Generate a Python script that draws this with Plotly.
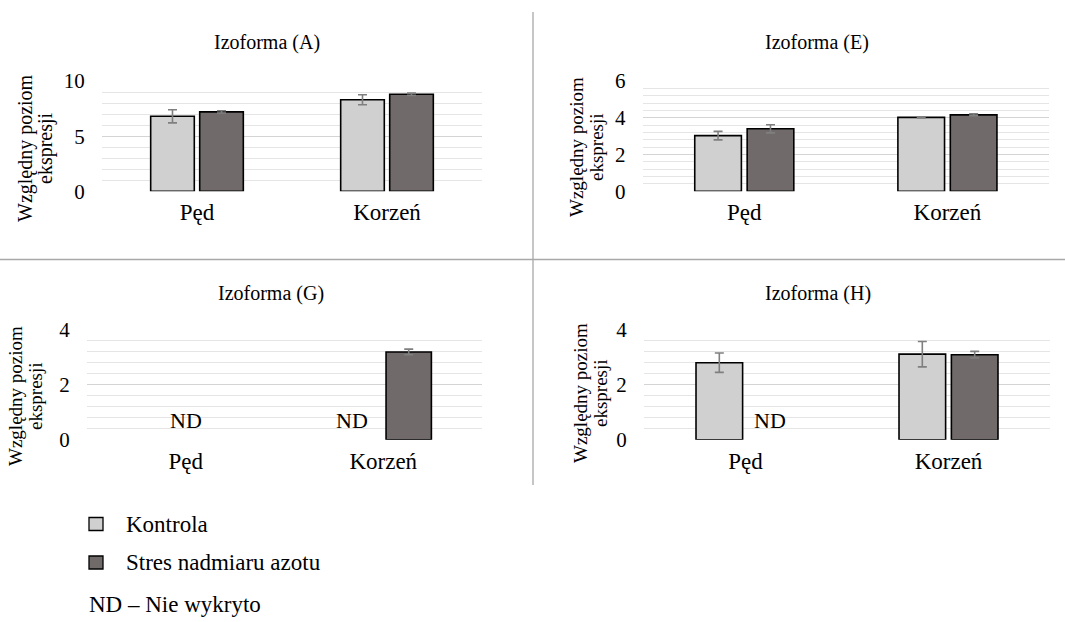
import plotly.graph_objects as go

# ---- data ----
categories = ["Pęd", "Korzeń"]
panel_titles = ["Izoforma (A)", "Izoforma (E)", "Izoforma (G)", "Izoforma (H)"]
series_names = ["Kontrola", "Stres nadmiaru azotu"]

kontrola_A = [6.8, 8.3]
kontrola_A_err = [0.6, 0.45]
stres_A = [7.2, 8.8]
stres_A_err = [0.1, 0.1]

kontrola_E = [3.03, 4.02]
kontrola_E_err = [0.23, 0.03]
stres_E = [3.4, 4.16]
stres_E_err = [0.22, 0.05]

kontrola_G = [None, None]
kontrola_G_err = [0, 0]
stres_G = [None, 3.18]
stres_G_err = [0, 0.1]

kontrola_H = [2.79, 3.1]
kontrola_H_err = [0.35, 0.46]
stres_H = [None, 3.08]
stres_H_err = [0, 0.12]

y_ranges = [10, 6, 4, 4]
y_major = [5, 2, 2, 2]
y_minor = [1, 0.4, 0.4, 0.4]

# ---- layout constants (pixels) ----
W, H = 1065, 622
FONT = "Liberation Serif, Times New Roman, serif"
C_CTRL = "#d0d0d0"
C_STRESS = "#706a6a"


def px_x(x):
    return x / W


def px_y(y):
    return 1 - y / H


# plot areas: (left, right, top, bottom) in pixels
areas = [
    (102, 482, 81, 191.3),
    (642.7, 1049, 81, 191.3),
    (87, 482, 329.3, 439.7),
    (644, 1050, 329.3, 439.7),
]
title_pos = [(267, 43), (817, 43), (271, 293), (818, 293)]
# y-axis title: two rotated lines (x of each line, common y centre, font size)
ytitle = [
    ((25, 45), 148, 20),
    ((577, 597), 147, 19),
    ((15, 35), 396, 19),
    ((580, 600), 393, 19),
]

panels = [
    (kontrola_A, kontrola_A_err, stres_A, stres_A_err),
    (kontrola_E, kontrola_E_err, stres_E, stres_E_err),
    (kontrola_G, kontrola_G_err, stres_G, stres_G_err),
    (kontrola_H, kontrola_H_err, stres_H, stres_H_err),
]

fig = go.Figure()
annotations = []

for i, (kv, ke, sv, se) in enumerate(panels):
    n = "" if i == 0 else str(i + 1)
    xa, ya = "x" + n, "y" + n
    for vals, errs, name, col in [(kv, ke, series_names[0], C_CTRL),
                                  (sv, se, series_names[1], C_STRESS)]:
        fig.add_trace(go.Bar(
            x=categories, y=vals, name=name, xaxis=xa, yaxis=ya,
            marker=dict(color=col, line=dict(color="#000000", width=1.6)),
            error_y=dict(type="data", array=errs, color="#7f7f7f",
                         thickness=1.6, width=4.5),
            showlegend=False,
            offsetgroup=name,
        ))
    l, r, t, b = areas[i]
    fig.update_layout(**{
        ("xaxis" + n): dict(
            domain=[px_x(l), px_x(r)], anchor="free", position=px_y(b + 5),
            type="category",
            range=[-0.5, 1.5], showgrid=False, zeroline=False, showline=False,
            ticks="",
            tickfont=dict(family=FONT, size=23, color="#000"),
            automargin=False,
        ),
        ("yaxis" + n): dict(
            domain=[px_y(b), px_y(t)], anchor=xa,
            range=[0, y_ranges[i]], dtick=y_major[i], tick0=0,
            showgrid=True, gridcolor="#d4d4d4", gridwidth=1.3,
            minor=dict(dtick=y_minor[i], tick0=0, showgrid=True,
                       gridcolor="#e5e5e5", gridwidth=1),
            zeroline=False, showline=False,
            ticks="outside", ticklen=12, tickcolor="rgba(0,0,0,0)",
            tickfont=dict(family=FONT, size=21, color="#000"),
            automargin=False,
        ),
    })
    tx, ty = title_pos[i]
    annotations.append(dict(
        text=panel_titles[i], x=px_x(tx), y=px_y(ty), xref="paper", yref="paper",
        showarrow=False, xanchor="center", yanchor="middle",
        font=dict(family=FONT, size=20, color="#000"),
    ))
    (lx1, lx2), yc, fs = ytitle[i]
    for txt, lx in [("Względny poziom", lx1), ("ekspresji", lx2)]:
        annotations.append(dict(
            text=txt, x=px_x(lx), y=px_y(yc), xref="paper", yref="paper",
            showarrow=False, textangle=-90, xanchor="center", yanchor="middle",
            font=dict(family=FONT, size=fs, color="#000"),
        ))

# "ND" labels for undetected samples
nd_labels = [
    dict(x="Pęd", y=0.7, xref="x3", yref="y3", xshift=0),
    dict(x="Korzeń", y=0.7, xref="x3", yref="y3", xshift=-31),
    dict(x="Pęd", y=0.7, xref="x4", yref="y4", xshift=24),
]
for nd in nd_labels:
    annotations.append(dict(
        text="ND", showarrow=False, xanchor="center", yanchor="middle",
        font=dict(family=FONT, size=22, color="#000"), **nd,
    ))

# legend drawn as boxes + labels under the panels
shapes = []
legend_rows = [(series_names[0], C_CTRL, 524), (series_names[1], C_STRESS, 562.5)]
for label, col, yc in legend_rows:
    shapes.append(dict(
        type="rect", xref="paper", yref="paper",
        x0=px_x(89), x1=px_x(103), y0=px_y(yc + 6.5), y1=px_y(yc - 6.5),
        fillcolor=col, line=dict(color="#000", width=1.3),
    ))
    annotations.append(dict(
        text=label, x=px_x(124), y=px_y(yc), xref="paper", yref="paper",
        showarrow=False, xanchor="left", yanchor="middle",
        font=dict(family=FONT, size=23, color="#000"),
    ))
annotations.append(dict(
    text="ND – Nie wykryto", x=px_x(87), y=px_y(604), xref="paper", yref="paper",
    showarrow=False, xanchor="left", yanchor="middle",
    font=dict(family=FONT, size=23, color="#000"),
))

# panel separators
shapes.append(dict(type="line", xref="paper", yref="paper",
                   x0=px_x(533), x1=px_x(533), y0=px_y(12), y1=px_y(485),
                   line=dict(color="#a8a8a8", width=1.3)))
shapes.append(dict(type="line", xref="paper", yref="paper",
                   x0=0, x1=1, y0=px_y(259.5), y1=px_y(259.5),
                   line=dict(color="#a8a8a8", width=1.3)))

fig.update_layout(
    width=W, height=H,
    margin=dict(l=0, r=0, t=0, b=0, autoexpand=False),
    paper_bgcolor="#ffffff", plot_bgcolor="rgba(0,0,0,0)",
    barmode="group", bargap=0.484, bargroupgap=0.11,
    annotations=annotations, shapes=shapes,
    showlegend=False,
    font=dict(family=FONT, color="#000"),
)

fig.write_html("out.html")
